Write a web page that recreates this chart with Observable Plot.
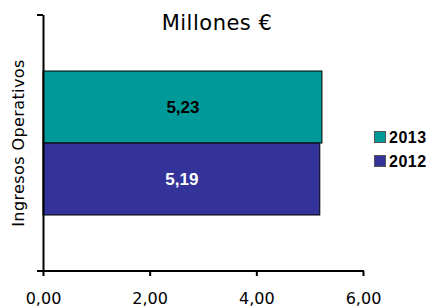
<!DOCTYPE html>
<html>
<head>
<meta charset="utf-8">
<script src="https://cdn.jsdelivr.net/npm/d3@7"></script>
<script src="https://cdn.jsdelivr.net/npm/@observablehq/plot@0.6"></script>
<style>
  html, body { margin: 0; padding: 0; background: #fff; }
  #chart { width: 431px; height: 307px; }
</style>
</head>
<body>
<div id="chart"></div>
<script>
const years = ["2013", "2012"];
const values = [5.23, 5.19];
const colors = ["#009999", "#333399"];
const labelColors = ["#000000", "#ffffff"];
const xTicks = [0, 2, 4, 6];
const title = "Millones €";
const yLabel = "Ingresos Operativos";

const data = years.map((y, i) => ({year: y, value: values[i]}));
const fmt = (v, n) => v.toFixed(n).replace(".", ",");

const plot = Plot.plot({
  width: 431,
  height: 307,
  marginLeft: 43,
  marginRight: 68,
  marginTop: 15,
  marginBottom: 36,
  style: {fontFamily: "DejaVu Sans", fontSize: "16px", color: "#000", background: "#fff"},
  x: {domain: [0, 6]},
  y: {domain: years, paddingInner: 0, paddingOuter: 0.766, axis: null},
  color: {domain: years, range: colors},
  marks: [
    Plot.barX(data, {x: "value", y: "year", fill: "year", stroke: "#000", strokeWidth: 1}),
    Plot.text(data, {filter: d => d.year === years[0], x: d => d.value / 2, y: "year", text: d => fmt(d.value, 2),
      fill: labelColors[0], fontFamily: "Liberation Sans", fontWeight: "bold", fontSize: 17}),
    Plot.text(data, {filter: d => d.year === years[1], x: d => d.value / 2, y: "year", text: d => fmt(d.value, 2),
      fill: labelColors[1], fontFamily: "Liberation Sans", fontWeight: "bold", fontSize: 17}),
    Plot.axisX({ticks: xTicks, tickSize: 5, strokeWidth: 2, text: null, label: null}),
    Plot.axisX({ticks: xTicks, tickFormat: d => fmt(d, 2), tickSize: 0, tickPadding: 21,
      fontSize: 16, label: null, fontWeight: "normal", style: {letterSpacing: "1px"}}),
    Plot.ruleX([0], {stroke: "#000", strokeWidth: 2})
  ]
});
document.getElementById("chart").appendChild(plot);

const svg = d3.select(plot);
const xs = plot.scale("x");
const x0 = xs.apply(0);
const x6 = xs.apply(6);
const plotTop = 15, plotBottom = 307 - 36;

// bottom axis line (extends left as a tick)
svg.append("line").attr("x1", x0 - 6).attr("x2", x6 + 1).attr("y1", plotBottom).attr("y2", plotBottom)
  .attr("stroke", "#000").attr("stroke-width", 2);
// top tick on y axis
svg.append("line").attr("x1", x0 - 6).attr("x2", x0).attr("y1", plotTop).attr("y2", plotTop)
  .attr("stroke", "#000").attr("stroke-width", 2);

// title
svg.append("text").attr("x", 217).attr("y", 30).attr("text-anchor", "middle")
  .attr("font-family", "DejaVu Sans").attr("font-size", 21).attr("letter-spacing", "0.5px")
  .attr("fill", "#000").text(title);

// y label
svg.append("text").attr("transform", "translate(24,143) rotate(-90)").attr("text-anchor", "middle")
  .attr("font-family", "DejaVu Sans").attr("font-size", 16).attr("letter-spacing", "0.4px")
  .attr("fill", "#000").text(yLabel);

// legend
const legendY = [131.5, 155.5];
years.forEach((y, i) => {
  svg.append("rect").attr("x", 374.5).attr("y", legendY[i]).attr("width", 11).attr("height", 11)
    .attr("fill", colors[i]).attr("stroke", "#555").attr("stroke-width", 1);
  svg.append("text").attr("x", 389).attr("y", legendY[i] + 11.5).attr("text-anchor", "start")
    .attr("font-family", "Liberation Sans").attr("font-weight", "bold").attr("font-size", 16)
    .attr("letter-spacing", "0.5px").attr("fill", "#000").text(y);
});
</script>
</body>
</html>
